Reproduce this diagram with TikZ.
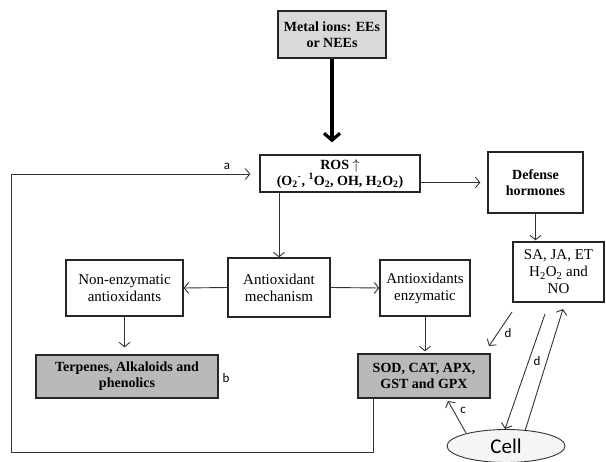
\documentclass[tikz,border=0pt]{standalone}
\usepackage{fontspec}
\setmainfont{Liberation Serif}
\newfontfamily\lblfont{Carlito}
\usetikzlibrary{arrows.meta,shapes.geometric}
\begin{document}
\begin{tikzpicture}[x=1pt,y=-1pt,
  box/.style={draw=black!85, line width=1.3pt, align=center, inner sep=0pt, fill=white,
    font=\fontsize{15}{17}\selectfont},
  bbox/.style={box, font=\fontsize{14}{16}\selectfont\bfseries},
  arr/.style={draw=black!80, line width=0.9pt, -{Straight Barb[length=4.5pt,width=11pt]}},
  lbl/.style={font=\lblfont\fontsize{13}{15}\selectfont, inner sep=0pt}
]
\useasboundingbox (0,0) rectangle (606,462);
\fill[white] (0,0) rectangle (606,462);

\node[bbox, fill=gray!30, minimum width=108pt, minimum height=47pt] (metal) at (332,34.5) {Metal ions: EEs\\or NEEs};
\node[bbox, minimum width=160pt, minimum height=37pt] (ros) at (340,173.5) {ROS $\uparrow$\\(O\textsubscript{2}\textsuperscript{-}, \textsuperscript{1}O\textsubscript{2}, OH, H\textsubscript{2}O\textsubscript{2})};
\node[bbox, minimum width=95pt, minimum height=61pt] (def) at (535.5,182.5) {Defense\\hormones};
\node[box, minimum width=91pt, minimum height=60pt] (sa) at (558.5,272) {SA, JA, ET\\H\textsubscript{2}O\textsubscript{2} and\\NO};
\node[box, minimum width=102pt, minimum height=59pt] (mech) at (279,287.5) {Antioxidant\\mechanism};
\node[box, minimum width=117pt, minimum height=56pt] (nonenz) at (124.5,288) {Non-enzymatic\\antioxidants};
\node[box, minimum width=90pt, minimum height=56pt] (enz) at (425,288) {Antioxidants\\enzymatic};
\node[bbox, fill=gray!55, minimum width=182pt, minimum height=43pt] (terp) at (127,376.5) {Terpenes, Alkaloids and\\phenolics};
\node[bbox, fill=gray!55, minimum width=132pt, minimum height=44pt] (sod) at (424,376) {SOD, CAT, APX,\\GST and GPX};
\node[ellipse, draw=black!80, line width=0.9pt, fill=gray!8, minimum width=118pt, minimum height=33pt, inner sep=0pt,
  font=\lblfont\fontsize{21}{23}\selectfont] (cell) at (506,446) {Cell};

% thick arrow
\draw[draw=black, line width=3.2pt, -{Straight Barb[length=7pt,width=16pt]}, shorten >=12pt] (metal.south) -- (metal.south |- ros.north);

\draw[arr, shorten >=7pt] (ros.east |- def.west) -- (def.west);
\draw[arr, shorten >=1pt] (def.south) -- (def.south |- sa.north);
\draw[arr] (mech.north |- ros.south) -- (mech.north);
\draw[arr] (mech.west) -- (nonenz.east);
\draw[arr] (mech.east) -- (enz.west);
\draw[arr, shorten >=7pt] (nonenz.south) -- (nonenz.south |- terp.north);
\draw[arr, shorten >=2pt] (enz.south) -- (enz.south |- sod.north);

% d arrows
\coordinate (d1s) at (512,312);
\coordinate (d1e) at (489,346);
\draw[arr] (d1s) -- (d1e);
\coordinate (d2s) at (545,314);
\coordinate (d2e) at (505,429);
\draw[arr] (d2s) -- (d2e);
\coordinate (d3s) at (525,431);
\coordinate (d3e) at (563,309);
\draw[arr] (d3s) -- (d3e);
\coordinate (c1s) at (466,433);
\coordinate (c1e) at (448,401);
\draw[arr] (c1s) -- (c1e);

% feedback loop
\coordinate (fb1) at (373,452);
\coordinate (fb2) at (11,452);
\coordinate (fb3) at (11,174);
\draw[arr, shorten >=9pt] (sod.south -| fb1) -- (fb1) -- (fb2) -- (fb3) -- (fb3 -| ros.west);

% labels
\node[lbl] (la) at (227,166) {a};
\node[lbl] (lb) at (226,378) {b};
\node[lbl] (lc) at (463,410) {c};
\node[lbl] (ld1) at (508,333) {d};
\node[lbl] (ld2) at (537,361) {d};
\end{tikzpicture}
\end{document}
